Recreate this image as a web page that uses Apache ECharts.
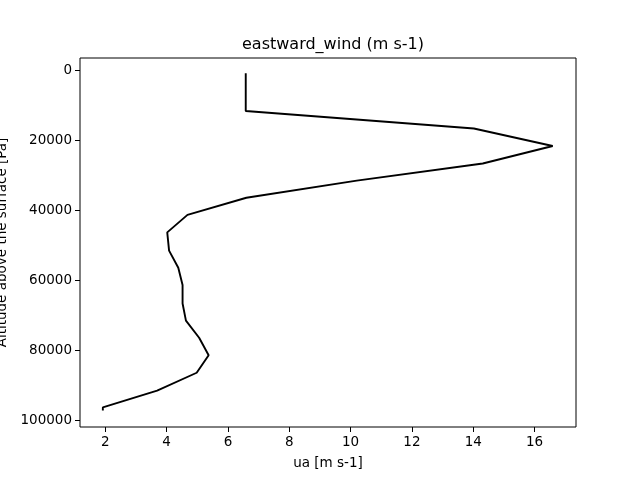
<!DOCTYPE html>
<html>
<head>
<meta charset="utf-8">
<script src="https://cdn.jsdelivr.net/npm/echarts@6/dist/echarts.min.js"></script>
<style>
html, body { margin: 0; padding: 0; background: #fff; }
#chart { width: 640px; height: 480px; }
</style>
</head>
<body>
<div id="chart"></div>
<script>
// pressure levels (Pa) and eastward wind (m s-1)
var pressure = [950, 11700, 16700, 21700, 26700, 31600, 36500, 41400, 46400, 51600,
    56500, 61400, 66700, 71600, 76500, 81500, 86500, 91600, 96400, 97300];
var ua = [6.58, 6.58, 14.02, 16.59, 14.31, 10.2, 6.6, 4.68, 4.02, 4.08,
    4.38, 4.52, 4.52, 4.63, 5.06, 5.37, 4.98, 3.69, 1.92, 1.92];
var xTicks = [2, 4, 6, 8, 10, 12, 14, 16];
var yTicks = [0, 20000, 40000, 60000, 80000, 100000];

var points = [];
for (var i = 0; i < pressure.length; i++) {
    points.push([ua[i], pressure[i]]);
}

var font = 'DejaVu Sans';
var chart = echarts.init(document.getElementById('chart'));
var option = {
    animation: false,
    title: {
        text: 'eastward_wind (m s-1)',
        left: 328,
        top: 32,
        textAlign: 'center',
        textStyle: {fontFamily: font, fontSize: 16, fontWeight: 'normal', color: '#000'}
    },
    grid: {
        left: 80,
        right: 64,
        top: 58,
        bottom: 53,
        containLabel: false,
        outerBoundsMode: 'none',
        show: true,
        borderColor: '#000',
        borderWidth: 1
    },
    xAxis: {
        type: 'value',
        min: 1.175,
        max: 17.35,
        name: 'ua [m s-1]',
        nameLocation: 'middle',
        nameGap: 29,
        nameTextStyle: {fontFamily: font, fontSize: 13.5, color: '#000'},
        axisLine: {show: false, onZero: false},
        splitLine: {show: false},
        axisTick: {show: true, length: 5, customValues: xTicks, lineStyle: {color: '#000'}},
        axisLabel: {
            customValues: xTicks,
            margin: 8,
            formatter: function (v) { return String(v); },
            fontFamily: font, fontSize: 13.5, color: '#000'
        }
    },
    yAxis: {
        type: 'value',
        inverse: true,
        min: -3430,
        max: 102000,
        name: 'Altitude above the surface [Pa]',
        nameLocation: 'middle',
        nameGap: 68,
        nameRotate: 90,
        nameTextStyle: {fontFamily: font, fontSize: 13.5, color: '#000'},
        axisLine: {show: false, onZero: false},
        splitLine: {show: false},
        axisTick: {show: true, length: 5, customValues: yTicks, lineStyle: {color: '#000'}},
        axisLabel: {
            customValues: yTicks,
            margin: 8,
            formatter: function (v) { return String(v); },
            fontFamily: font, fontSize: 13.5, color: '#000'
        }
    },
    series: [{
        type: 'line',
        data: points,
        showSymbol: false,
        symbol: 'none',
        lineStyle: {color: '#000', width: 1.9},
        z: 3
    }]
};
chart.setOption(option);
</script>
</body>
</html>
